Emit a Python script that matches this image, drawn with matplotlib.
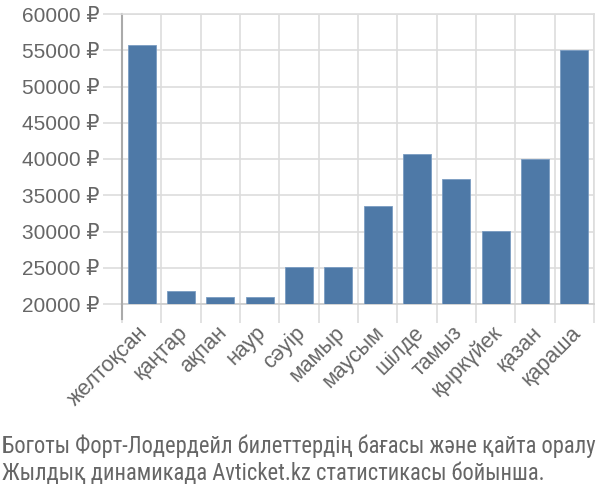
import matplotlib
matplotlib.use("Agg")
import matplotlib.pyplot as plt
from matplotlib import font_manager
from matplotlib.transforms import ScaledTranslation
import numpy as np

months = ["желтоқсан", "қаңтар", "ақпан", "наур", "сәуір", "мамыр", "маусым",
          "шілде", "тамыз", "қыркүйек", "қазан", "қараша"]
prices = [55700, 21800, 20900, 20900, 25100, 25100, 33500,
          40700, 37300, 30100, 40000, 55000]
yticks = [20000, 25000, 30000, 35000, 40000, 45000, 50000, 55000, 60000]
caption = ["Боготы Форт-Лодердейл билеттердің бағасы және қайта оралу",
           "Жылдық динамикада Avticket.kz статистикасы бойынша."]

names = {f.name for f in font_manager.fontManager.ttflist}
main_font = ["DejaVu Sans"]
for cand in ["Arimo", "Liberation Sans"]:
    if cand in names:
        main_font = [cand, "DejaVu Sans"]
        break
cap_font = main_font
for cand in ["Roboto Condensed", "Liberation Sans Narrow", "Archivo Narrow"]:
    if cand in names:
        cap_font = [cand, "DejaVu Sans"]
        break
plt.rcParams["font.family"] = main_font
plt.rcParams["font.stretch"] = "normal"

grey_text = "#666666"
grid_c = "#dddddd"

fig = plt.figure(figsize=(6, 5), dpi=100)
ax = fig.add_axes([122/600, 1-304/500, 472/600, 290/500])

x = np.arange(len(months))
ax.bar(x, [p - 20000 for p in prices], bottom=20000, width=0.72,
       color="#4e79a7", edgecolor="#7a9cc2", linewidth=0.6, zorder=3)

ax.set_xlim(-0.5, len(months) - 0.5)
ax.set_ylim(20000, 60000)
ax.set_yticks(yticks)
ax.set_yticklabels([f"{v} ₽" for v in yticks], color=grey_text, fontsize=15)
ax.tick_params(axis="y", length=14, color=grid_c, width=1.2, pad=2)

ax.set_xticks(x)
ax.set_xticklabels(months, rotation=45, ha="right", rotation_mode="anchor",
                   color=grey_text, fontsize=15.5)
ax.tick_params(axis="x", which="major", length=0, pad=13)
off = ScaledTranslation(-4/100, 0, fig.dpi_scale_trans)
for lab in ax.get_xticklabels():
    lab.set_transform(lab.get_transform() + off)
ax.set_xticks(np.arange(-0.5, len(months)), minor=True)
ax.tick_params(axis="x", which="minor", length=14, color=grid_c, width=1.2)

ax.grid(True, axis="y", color=grid_c, linewidth=1.2, zorder=0)
ax.grid(True, axis="x", which="minor", color=grid_c, linewidth=1.2, zorder=0)
for s in ["top", "right"]:
    ax.spines[s].set_color(grid_c)
    ax.spines[s].set_linewidth(1.2)
ax.spines["bottom"].set_color("#cccccc")
ax.spines["bottom"].set_linewidth(1.2)
ax.spines["left"].set_color("#aaaaaa")
ax.spines["left"].set_linewidth(1.5)
ax.spines["left"].set_bounds(20000, 60000)
ax.plot([-0.5, -0.5], [18000, 20000], color="#aaaaaa", linewidth=1.5,
        clip_on=False, zorder=4)

t1 = fig.text(2/600, 1-446/500, caption[0], fontsize=15, color=grey_text,
              family=cap_font, va="center", ha="left")
t2 = fig.text(2/600, 1-473/500, caption[1], fontsize=15, color=grey_text,
              family=cap_font, va="center", ha="left")
r = fig.canvas.get_renderer()
w = t1.get_window_extent(r).width
size = min(17.0, 15 * 596 / w)
t1.set_fontsize(size)
t2.set_fontsize(size)

fig.savefig("out.png", dpi=100)
